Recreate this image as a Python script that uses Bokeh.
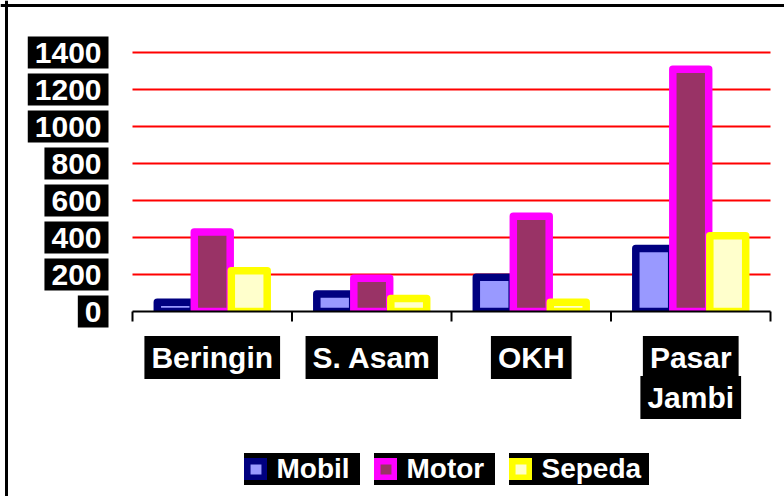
import math
from bokeh.plotting import figure
from bokeh.models import (ColumnDataSource, Range1d, Label, Legend, LegendItem, Span)
from bokeh.transform import dodge
from bokeh.embed import file_html
from bokeh.resources import INLINE

# ---- data ----
categories = ["Beringin", "S. Asam", "OKH", "Pasar Jambi"]
series = ["Mobil", "Motor", "Sepeda"]
mobil = [50, 95, 185, 340]
motor = [430, 180, 515, 1310]
sepeda = [220, 70, 50, 410]
y_ticks = [0, 200, 400, 600, 800, 1000, 1200, 1400]

# ---- layout (pixels) ----
W, H = 784, 496
PX_X0, PX_XN = 132, 770      # left / right end of the category axis
PX_Y0, PX_YMAX = 311, 52     # pixel rows of y=0 and y=max tick
YMAX = y_ticks[-1]
N = len(categories)
ux = (PX_XN - PX_X0) / N
uy = (PX_Y0 - PX_YMAX) / YMAX
x_rng = Range1d(-PX_X0 / ux, N + (W - PX_XN) / ux)
y_rng = Range1d(-(H - PX_Y0) / uy, YMAX + PX_YMAX / uy)

FONT = "Liberation Sans"
fills = {"Mobil": "#9999FF", "Motor": "#993366", "Sepeda": "#FFFFCC"}
borders = {"Mobil": "#000080", "Motor": "#FF00FF", "Sepeda": "#FFFF00"}
offsets = {"Mobil": -0.232, "Motor": 0.0, "Sepeda": 0.232}

p = figure(width=W, height=H, output_backend="svg", toolbar_location=None,
           x_range=x_rng, y_range=y_rng, min_border=0,
           x_axis_type=None, y_axis_type=None)
p.outline_line_color = None
p.background_fill_color = "white"
p.border_fill_color = "white"
p.grid.visible = False

# outer frame of the picture (left and top edges)
p.add_layout(Span(location=6, dimension="height", location_units="screen",
                  line_color="black", line_width=3))
p.add_layout(Span(location=H - 5, dimension="width", location_units="screen",
                  line_color="black", line_width=3))

# grid lines
gt = [t for t in y_ticks if t > 0]
p.segment(x0=[0] * len(gt), x1=[N] * len(gt), y0=gt, y1=gt,
          line_color="#FF0000", line_width=2)

# bars
src = ColumnDataSource(dict(x=[i + 0.5 for i in range(N)],
                            Mobil=mobil, Motor=motor, Sepeda=sepeda))
renderers = {}
for s in series:
    renderers[s] = p.vbar(x=dodge("x", offsets[s], range=p.x_range), top=s, bottom=0,
                          width=0.225, source=src, fill_color=fills[s],
                          line_color=borders[s], line_width=7.5, line_join="round")

# mask below the baseline, then the category axis with its ticks
p.varea(x=[x_rng.start, x_rng.end], y1=[y_rng.start] * 2, y2=[0, 0],
        fill_color="white")
p.segment(x0=[0], x1=[N], y0=[0], y1=[0], line_color="black", line_width=2)
p.ray(x=list(range(N + 1)), y=[0] * (N + 1), length=10, length_units="screen",
      angle=-math.pi / 2, line_color="black", line_width=2)

# y tick labels (white on black)
for t in y_ticks:
    p.add_layout(Label(x=0, y=t, x_offset=-24, text=str(t), text_align="right",
                       text_baseline="middle", text_color="white",
                       text_font=FONT, text_font_style="bold",
                       text_font_size="30px", background_fill_color="black",
                       padding=(7, 6)))

# category labels (white on black), long names wrapped
for i, c in enumerate(categories):
    lines = c.split(" ") if len(c) > 9 else [c]
    for j, ln in enumerate(lines):
        p.add_layout(Label(x=i + 0.5, y=0, y_offset=-46 - 40 * j, text=ln,
                           text_align="center", text_baseline="middle",
                           text_color="white", text_font=FONT,
                           text_font_style="bold", text_font_size="30px",
                           background_fill_color="black", padding=(7, 5)))

# legend: one block per series
leg_x = {"Mobil": 243.5, "Motor": 373.5, "Sepeda": 508.5}
leg_lw = {"Mobil": 83, "Motor": 88, "Sepeda": 107}
for s in series:
    leg = Legend(items=[LegendItem(label=s, renderers=[renderers[s]])],
                 location=(leg_x[s], H - 485), orientation="horizontal",
                 padding=0, margin=0, spacing=0,
                 glyph_width=23, glyph_height=22, label_standoff=10,
                 label_width=leg_lw[s],
                 label_text_color="white", label_text_font=FONT,
                 label_text_font_style="bold", label_text_font_size="28px",
                 background_fill_color="black", background_fill_alpha=1,
                 border_line_color=None)
    p.add_layout(leg)

open("out.html", "w").write(file_html(p, INLINE))
